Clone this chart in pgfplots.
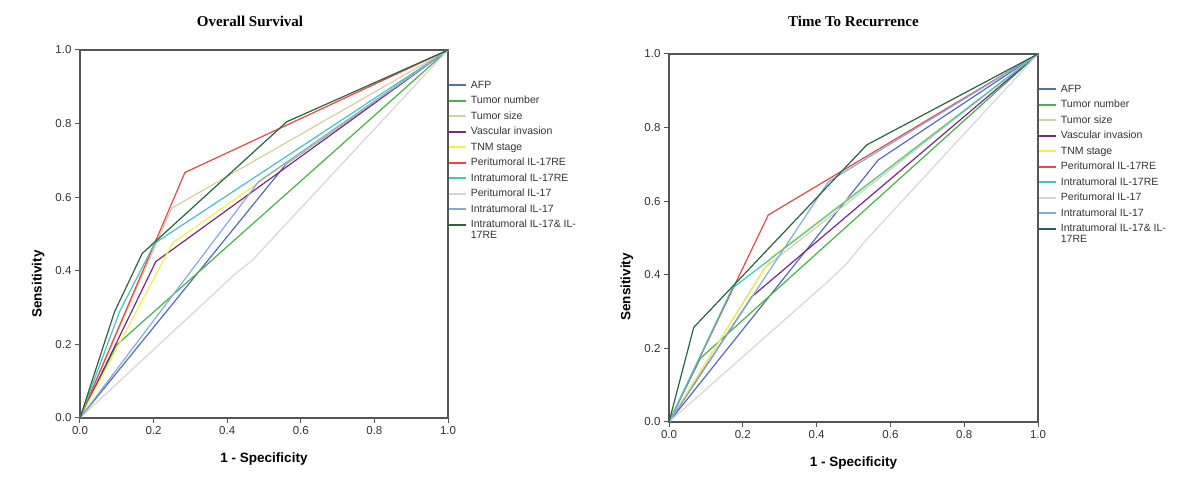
\documentclass[border=0pt]{standalone}
\usepackage{fontspec}
\setmainfont{Liberation Sans}
\newfontfamily\seriffont{Liberation Serif}
\usepackage{pgfplots}
\pgfplotsset{compat=1.18}

\definecolor{axisgray}{RGB}{85,85,85}
\definecolor{cAFP}{RGB}{84,108,188}
\definecolor{cTN}{RGB}{70,178,72}
\definecolor{cTS}{RGB}{214,207,160}
\definecolor{cVI}{RGB}{120,40,140}
\definecolor{cTNM}{RGB}{240,240,80}
\definecolor{cPRE}{RGB}{232,72,72}
\definecolor{cIRE}{RGB}{72,192,204}
\definecolor{cP17}{RGB}{214,214,214}
\definecolor{cI17}{RGB}{132,172,216}
\definecolor{cCOMB}{RGB}{40,100,62}

\pgfplotsset{
  rocaxis/.style={
    scale only axis, width=368pt, height=368pt,
    xmin=0, xmax=1, ymin=0, ymax=1,
    xtick={0,0.2,0.4,0.6,0.8,1}, ytick={0,0.2,0.4,0.6,0.8,1},
    xticklabels={0.0,0.2,0.4,0.6,0.8,1.0},
    yticklabels={0.0,0.2,0.4,0.6,0.8,1.0},
    tick align=outside, xtick pos=bottom, ytick pos=left,
    major tick length=5pt,
    axis line style={draw=axisgray, line width=1.1pt},
    tick style={draw=axisgray, line width=1pt},
    ticklabel style={font=\fontsize{11.5}{13}\selectfont, text=black!80},
    xlabel={1 - Specificity}, ylabel={Sensitivity},
    label style={font=\fontsize{13.5}{15}\selectfont\bfseries},
    title style={font=\seriffont\fontsize{15}{17}\selectfont\bfseries},
    every axis plot/.append style={line width=1.2pt},
    legend cell align=left,
    legend style={draw=none, fill=none, inner sep=0pt, outer sep=0pt,
      font=\fontsize{10.5}{12}\selectfont, text=black!80,
      row sep=5pt, column sep=4pt,
      nodes={inner sep=0pt, text height=8pt, text depth=2.5pt}},
    legend image code/.code={\draw[#1, line width=1.9pt] (0pt,0pt) -- (17pt,0pt);},
  }
}

\begin{document}
\begin{tikzpicture}
\useasboundingbox (0pt,0pt) rectangle (1200pt,492pt);

% ---------------- Overall Survival ----------------
\begin{axis}[rocaxis, at={(80pt,74pt)}, anchor=south west,
  title={Overall Survival},
  title style={at={(axis description cs:0.462,1.0625)}, anchor=center},
  xlabel style={at={(axis description cs:0.5,-0.111)}, anchor=center},
  ylabel style={at={(axis description cs:-0.114,0.364)}, anchor=center},
  legend style={at={(1,0.918)}, anchor=north west}]
\addplot[color=cAFP] coordinates {(0,0) (0.56,0.69) (1,1)};
\addlegendentry{AFP}
\addplot[color=cTN] coordinates {(0,0) (0.099,0.198) (1,1)};
\addlegendentry{Tumor number}
\addplot[color=cTS] coordinates {(0,0) (0.249,0.570) (1,1)};
\addlegendentry{Tumor size}
\addplot[color=cVI] coordinates {(0,0) (0.206,0.425) (1,1)};
\addlegendentry{Vascular invasion}
\addplot[color=cTNM] coordinates {(0,0) (0.252,0.476) (1,1)};
\addlegendentry{TNM stage}
\addplot[color=cPRE] coordinates {(0,0) (0.285,0.667) (1,1)};
\addlegendentry{Peritumoral IL-17RE}
\addplot[color=cIRE] coordinates {(0,0) (0.108,0.290) (0.203,0.475) (1,1)};
\addlegendentry{Intratumoral IL-17RE}
\addplot[color=cP17] coordinates {(0,0) (0.42,0.39) (0.47,0.43) (0.53,0.495) (1,1)};
\addlegendentry{Peritumoral IL-17}
\addplot[color=cI17] coordinates {(0,0) (0.485,0.642) (1,1)};
\addlegendentry{Intratumoral IL-17}
\addplot[color=cCOMB] coordinates {(0,0) (0.094,0.289) (0.169,0.447) (0.562,0.805) (1,1)};
\addlegendentry{\begin{tabular}[t]{@{}l@{}}Intratumoral IL-17\& IL-\\[-1pt]17RE\end{tabular}}
\end{axis}

% ---------------- Time To Recurrence ----------------
\begin{axis}[rocaxis, at={(669pt,70pt)}, anchor=south west, width=369pt,
  title={Time To Recurrence},
  title style={at={(axis description cs:0.5,1.073)}, anchor=center},
  xlabel style={at={(axis description cs:0.5,-0.111)}, anchor=center},
  ylabel style={at={(axis description cs:-0.114,0.367)}, anchor=center},
  legend style={at={(1,0.918)}, anchor=north west}]
\addplot[color=cAFP] coordinates {(0,0) (0.567,0.712) (1,1)};
\addlegendentry{AFP}
\addplot[color=cTN] coordinates {(0,0) (0.085,0.173) (1,1)};
\addlegendentry{Tumor number}
\addplot[color=cTS] coordinates {(0,0) (0.26,0.42) (1,1)};
\addlegendentry{Tumor size}
\addplot[color=cVI] coordinates {(0,0) (0.225,0.341) (1,1)};
\addlegendentry{Vascular invasion}
\addplot[color=cTNM] coordinates {(0,0) (0.28,0.45) (1,1)};
\addlegendentry{TNM stage}
\addplot[color=cPRE] coordinates {(0,0) (0.269,0.5625) (1,1)};
\addlegendentry{Peritumoral IL-17RE}
\addplot[color=cIRE] coordinates {(0,0) (0.171,0.363) (1,1)};
\addlegendentry{Intratumoral IL-17RE}
\addplot[color=cP17] coordinates {(0,0) (0.44,0.39) (0.482,0.431) (0.53,0.49) (1,1)};
\addlegendentry{Peritumoral IL-17}
\addplot[color=cI17] coordinates {(0,0) (0.432,0.653) (1,1)};
\addlegendentry{Intratumoral IL-17}
\addplot[color=cCOMB] coordinates {(0,0) (0.067,0.257) (0.536,0.753) (1,1)};
\addlegendentry{\begin{tabular}[t]{@{}l@{}}Intratumoral IL-17\& IL-\\[-1pt]17RE\end{tabular}}
\end{axis}
\end{tikzpicture}
\end{document}
